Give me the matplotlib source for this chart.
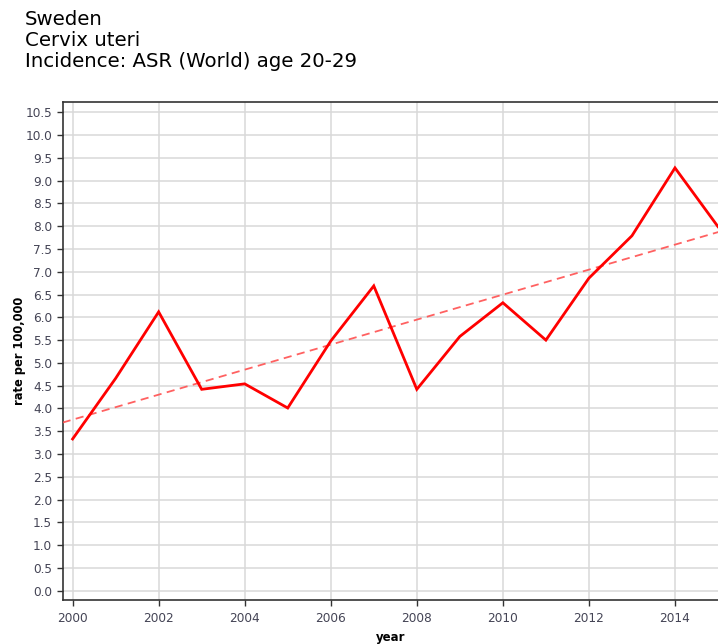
import numpy as np
import matplotlib
matplotlib.use("Agg")
import matplotlib.pyplot as plt

years = [2000, 2001, 2002, 2003, 2004, 2005, 2006, 2007, 2008, 2009, 2010, 2011, 2012, 2013, 2014, 2015]
rates = [3.33, 4.66, 6.12, 4.42, 4.54, 4.01, 5.48, 6.69, 4.42, 5.58, 6.32, 5.50, 6.86, 7.79, 9.28, 7.99]
title_lines = ["Sweden", "Cervix uteri", "Incidence: ASR (World) age 20-29"]
x_ticks = [2000, 2002, 2004, 2006, 2008, 2010, 2012, 2014]
y_ticks = [i * 0.5 for i in range(22)]

W, H = 718, 644
fig = plt.figure(figsize=(W / 100, H / 100), dpi=100)
ax = fig.add_axes([62.7 / W, 1 - 600 / H, 1 - 62.7 / W, (600 - 102) / H])

x = np.array(years, dtype=float)
y = np.array(rates)
slope, intercept = np.polyfit(x, y, 1)
xt = np.array([1999.77, 2015.2])
ax.plot(xt, slope * xt + intercept, color="#ff5050", lw=1.3, ls=(0, (4.5, 3)), alpha=0.9, zorder=3)
ax.plot(x, y, color="#ff0000", lw=2.0, zorder=4, solid_joinstyle="miter")

ax.set_xlim(1999.77, 2015.0)
ax.set_ylim(-0.204, 10.726)
ax.set_xticks(x_ticks)
ax.set_xticklabels([str(t) for t in x_ticks])
ax.set_yticks(y_ticks)
ax.set_yticklabels([f"{t:.1f}" for t in y_ticks])
ax.grid(True, color="#d8d8d8", lw=1.1)
ax.set_axisbelow(True)
for s in ["left", "bottom", "top"]:
    ax.spines[s].set_color("#333333")
    ax.spines[s].set_linewidth(1.2)
ax.spines["right"].set_visible(False)
ax.tick_params(axis="both", direction="out", length=4, width=1, color="#333333",
               labelsize=8.7, labelcolor="#444455")
ax.tick_params(axis="x", pad=5)
ax.set_ylabel("rate per 100,000", fontsize=8.3, fontweight="bold", labelpad=0)
ax.set_xlabel("year", fontsize=8.5, fontweight="bold", labelpad=4)

fig.text(25 / W, 1 - 10 / H, "\n".join(title_lines), fontsize=14.2, va="top", ha="left",
         linespacing=1.13, color="#000000")

fig.savefig("out.png", dpi=100)
